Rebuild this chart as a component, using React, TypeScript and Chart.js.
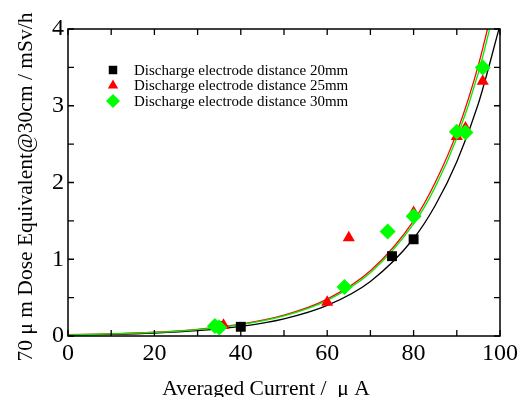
import React, { useEffect, useRef } from 'react';
import { Chart, registerables } from 'chart.js';
import { drawPoint } from 'chart.js/helpers';

Chart.register(...registerables);

const FONT = '"Liberation Serif", "Times New Roman", serif';

// ---- data ----
const seriesLabels = [
  'Discharge electrode distance 20mm',
  'Discharge electrode distance 25mm',
  'Discharge electrode distance 30mm',
];
const xTitle = 'Averaged Current /  μ A';
const yTitle = '70 μ m Dose Equivalent@30cm / mSv/h';

const d20X = [35, 40, 75, 80];
const d20Y = [0.13, 0.12, 1.04, 1.26];

const d25X = [36, 60, 65, 80, 90, 92, 96];
const d25Y = [0.14, 0.44, 1.28, 1.61, 2.6, 2.71, 3.32];

const d30X = [34, 35, 64, 74, 80, 90, 92, 96];
const d30Y = [0.13, 0.11, 0.64, 1.36, 1.56, 2.66, 2.65, 3.5];

// fitted curves
const fitX = [0, 10, 20, 30, 40, 50, 60, 70, 80, 85, 90, 95, 100];
const fit20Y = [0.012, 0.022, 0.039, 0.07, 0.125, 0.223, 0.398, 0.711, 1.27, 1.7, 2.27, 3.03, 4.05];
const fit25Y = [0.016, 0.028, 0.049, 0.087, 0.154, 0.271, 0.48, 0.849, 1.5, 2.0, 2.65, 3.53, 4.69];
const fit30Y = [0.015, 0.027, 0.047, 0.084, 0.148, 0.262, 0.465, 0.825, 1.46, 1.94, 2.58, 3.43, 4.56];

const xTicks = [0, 20, 40, 60, 80, 100];
const yTicks = [0, 1, 2, 3, 4];
const xMinorStep = 10;
const yMinorStep = 0.5;

const pts = (xs: number[], ys: number[]) => xs.map((x, i) => ({ x, y: ys[i] }));

const frameTicksPlugin = {
  id: 'frameTicks',
  afterDraw(chart: any) {
    const { ctx, chartArea } = chart;
    const { left, right, top, bottom } = chartArea;
    const xs = chart.scales.x;
    const ys = chart.scales.y;
    const len = 6;
    ctx.save();
    ctx.strokeStyle = '#000';
    ctx.lineWidth = 1.3;
    ctx.beginPath();
    for (let v = xs.min; v <= xs.max + 1e-9; v += xMinorStep) {
      const px = xs.getPixelForValue(v);
      ctx.moveTo(px, bottom);
      ctx.lineTo(px, bottom - len);
      ctx.moveTo(px, top);
      ctx.lineTo(px, top + len);
    }
    for (let v = ys.min; v <= ys.max + 1e-9; v += yMinorStep) {
      const py = ys.getPixelForValue(v);
      ctx.moveTo(left, py);
      ctx.lineTo(left + len, py);
      ctx.moveTo(right, py);
      ctx.lineTo(right - len, py);
    }
    ctx.stroke();
    ctx.lineWidth = 1.5;
    ctx.strokeRect(left, top, right - left, bottom - top);

    // axis titles
    ctx.fillStyle = '#000';
    ctx.font = `21.5px ${FONT}`;
    ctx.textAlign = 'center';
    ctx.textBaseline = 'alphabetic';
    ctx.fillText(xTitle, left + 198, chart.height - 2);
    ctx.save();
    ctx.translate(31.5, top + 158);
    ctx.rotate(-Math.PI / 2);
    ctx.fillText(yTitle, 0, 0);
    ctx.restore();
    ctx.restore();
  },
};

const legendPlugin = {
  id: 'insideLegend',
  afterDraw(chart: any) {
    const { ctx, chartArea } = chart;
    const markerX = chartArea.left + 45;
    const textX = chartArea.left + 66;
    const y0 = chartArea.top + 41;
    const rowH = 15.5;
    const sets = chart.data.datasets.filter((d: any) => d.isMarker);
    sets.sort((a: any, b: any) => a.legendIndex - b.legendIndex);
    ctx.save();
    sets.forEach((ds: any, i: number) => {
      const y = y0 + i * rowH;
      ctx.fillStyle = ds.backgroundColor;
      ctx.strokeStyle = ds.backgroundColor;
      ctx.lineWidth = 1;
      drawPoint(ctx, { pointStyle: ds.pointStyle, radius: ds.legendRadius, rotation: 0, borderWidth: 0 }, markerX, y);
      ctx.fillStyle = '#000';
      ctx.font = `15px ${FONT}`;
      ctx.textBaseline = 'middle';
      ctx.textAlign = 'left';
      ctx.fillText(ds.label, textX, y + 1);
    });
    ctx.restore();
  },
};

export default function App() {
  const ref = useRef<HTMLCanvasElement | null>(null);

  useEffect(() => {
    if (!ref.current) return;
    const lineDs = (label: string, ys: number[], color: string, order: number) => ({
      label,
      data: pts(fitX, ys),
      showLine: true,
      borderColor: color,
      backgroundColor: color,
      borderWidth: 1.3,
      pointRadius: 0,
      cubicInterpolationMode: 'monotone' as const,
      order,
    });
    const chart = new Chart(ref.current, {
      type: 'scatter',
      data: {
        datasets: [
          {
            label: seriesLabels[2],
            data: pts(d30X, d30Y),
            pointStyle: 'rectRot',
            pointRadius: 8,
            backgroundColor: '#00ff00',
            borderColor: '#00ff00',
            borderWidth: 0,
            order: 0,
            isMarker: true,
            legendIndex: 2,
            legendRadius: 7,
          } as any,
          {
            label: seriesLabels[1],
            data: pts(d25X, d25Y),
            pointStyle: 'triangle',
            pointRadius: 7,
            backgroundColor: '#ff0000',
            borderColor: '#ff0000',
            borderWidth: 0,
            order: 1,
            isMarker: true,
            legendIndex: 1,
            legendRadius: 6,
          } as any,
          {
            label: seriesLabels[0],
            data: pts(d20X, d20Y),
            pointStyle: 'rect',
            pointRadius: 7,
            backgroundColor: '#000000',
            borderColor: '#000000',
            borderWidth: 0,
            order: 2,
            isMarker: true,
            legendIndex: 0,
            legendRadius: 6,
          } as any,
          lineDs('fit 30mm', fit30Y, '#00ee00', 3),
          lineDs('fit 25mm', fit25Y, '#ff0000', 4),
          lineDs('fit 20mm', fit20Y, '#000000', 5),
        ],
      },
      options: {
        responsive: false,
        animation: false,
        events: [],
        layout: { padding: { top: 29, right: 18, left: 0, bottom: 0 } },
        plugins: {
          legend: { display: false },
          tooltip: { enabled: false },
        },
        scales: {
          x: {
            type: 'linear',
            min: 0,
            max: 100,
            grid: { display: false, drawTicks: false },
            border: { display: false },
            afterBuildTicks: (s: any) => {
              s.ticks = xTicks.map((v) => ({ value: v }));
            },
            afterFit: (s: any) => {
              s.height = 61;
              s.paddingLeft = 0;
              s.paddingRight = 0;
            },
            ticks: {
              color: '#000',
              font: { family: FONT, size: 24 },
              padding: 3,
              maxRotation: 0,
              autoSkip: false,
            },
            title: { display: false },
          },
          y: {
            type: 'linear',
            min: 0,
            max: 4,
            grid: { display: false, drawTicks: false },
            border: { display: false },
            afterBuildTicks: (s: any) => {
              s.ticks = yTicks.map((v) => ({ value: v }));
            },
            afterFit: (s: any) => {
              s.width = 68;
              s.paddingTop = 0;
              s.paddingBottom = 0;
            },
            ticks: {
              color: '#000',
              font: { family: FONT, size: 24 },
              padding: 4,
              autoSkip: false,
            },
            title: { display: false },
          },
        },
      },
      plugins: [frameTicksPlugin, legendPlugin],
    });
    return () => chart.destroy();
  }, []);

  return (
    <div style={{ position: 'fixed', left: 0, top: 0, width: 518, height: 397, background: '#fff' }}>
      <canvas ref={ref} width={518} height={397} style={{ width: 518, height: 397, display: 'block' }} />
    </div>
  );
}
